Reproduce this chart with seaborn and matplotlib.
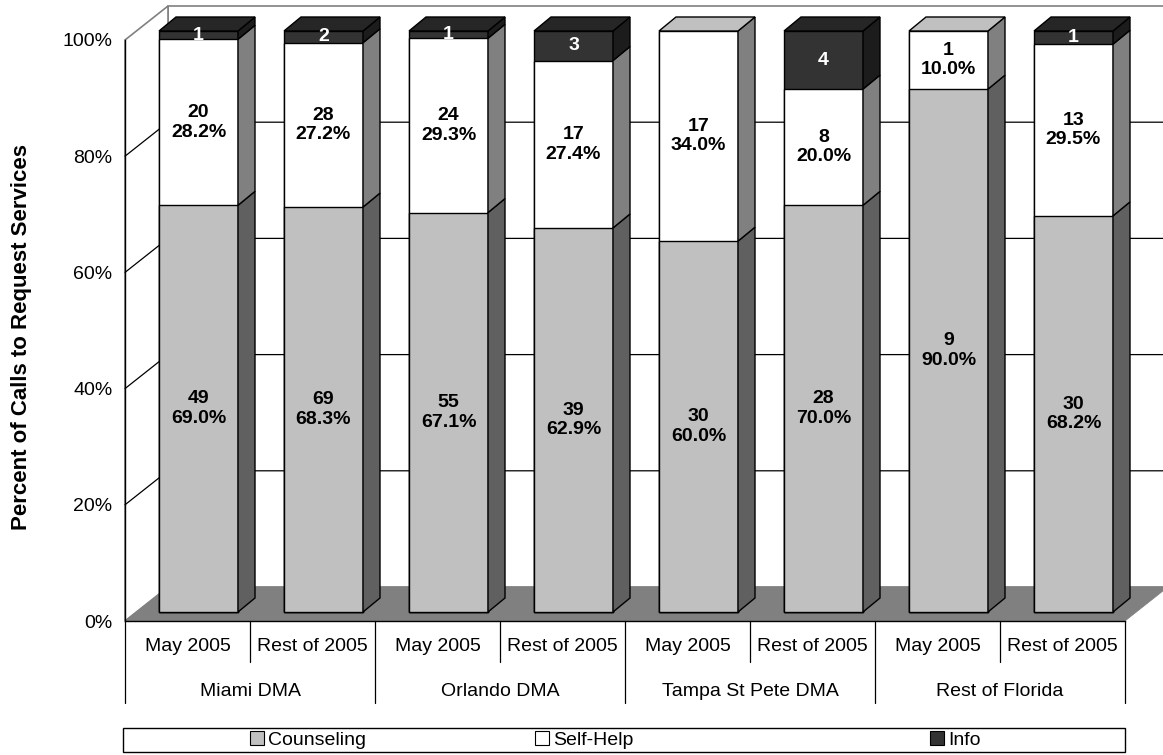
import numpy as np
import pandas as pd
import matplotlib
matplotlib.use("Agg")
import matplotlib.pyplot as plt
from matplotlib.patches import Polygon, Patch, Rectangle
import seaborn as sns

# data
regions = ["Miami DMA", "Orlando DMA", "Tampa St Pete DMA", "Rest of Florida"]
periods = ["May 2005", "Rest of 2005"]
series = ["Counseling", "Self-Help", "Info"]

counseling = [49, 69, 55, 39, 30, 28, 9, 30]
self_help = [20, 28, 24, 17, 17, 8, 1, 13]
info = [1, 2, 1, 3, 0, 4, 0, 1]
counseling_pct = ["69.0%", "68.3%", "67.1%", "62.9%", "60.0%", "70.0%", "90.0%", "68.2%"]
self_help_pct = ["28.2%", "27.2%", "29.3%", "27.4%", "34.0%", "20.0%", "10.0%", "29.5%"]

front = {"Counseling": "#c0c0c0", "Self-Help": "#ffffff", "Info": "#333333"}
side = {"Counseling": "#606060", "Self-Help": "#808080", "Info": "#1c1c1c"}
top = {"Counseling": "#a0a0a0", "Self-Help": "#c0c0c0", "Info": "#262626"}

sns.set_style("white")
plt.rcParams["font.family"] = ["Liberation Sans", "DejaVu Sans"]
plt.rcParams["text.color"] = "black"
plt.rcParams["axes.labelcolor"] = "black"
plt.rcParams["xtick.color"] = "black"
plt.rcParams["ytick.color"] = "black"

bars = [f"{r}|{p}" for r in regions for p in periods]
counts = pd.DataFrame({"Counseling": counseling, "Self-Help": self_help, "Info": info}, index=bars)
share = counts.div(counts.sum(axis=1), axis=0) * 100
cum = share.cumsum(axis=1)

W, H = 1163, 755
fig = plt.figure(figsize=(W / 100, H / 100), dpi=100)
ax = fig.add_axes([125 / W, (H - 621) / H, 1000 / W, 581 / H])
ax.patch.set_visible(False)

# pixel -> data helpers (x: 125 px per bar, y: 5.81 px per %)
px_x = lambda p: p / 125.0
px_y = lambda p: p * 100.0 / 581.0
ox, oy = px_x(11), px_y(9)      # bar front plane
ddx, ddy = px_x(17), px_y(14)   # bar depth
Dx, Dy = px_x(43), px_y(34)     # wall depth
w = 0.632

# stacked front faces (overlay of cumulative shares)
for s in series[::-1]:
    sns.barplot(x=bars, y=cum[s].values, color=front[s], width=w, saturation=1,
                edgecolor="black", linewidth=1, zorder=3, ax=ax)
for p in ax.patches:
    p.set_x(p.get_x() + ox)
    p.set_y(p.get_y() + oy)
    p.set_clip_on(False)

ax.set_xlim(-0.5, 7.5)
ax.set_ylim(0, 100)

# walls, floor, gridlines
ax.add_patch(Rectangle((-0.5 + Dx, Dy), 8, 100, fc="white", ec="#808080", lw=1.2,
                       zorder=0.5, clip_on=False))
ax.add_patch(Polygon([(-0.5, 0), (-0.5, 100), (-0.5 + Dx, 100 + Dy), (-0.5 + Dx, Dy)],
                     closed=True, fc="white", ec="#808080", lw=1.2, zorder=0.6, clip_on=False))
ax.add_patch(Polygon([(-0.5, 0), (7.5, 0), (7.5 + Dx, Dy), (-0.5 + Dx, Dy)],
                     closed=True, fc="#808080", ec="#808080", lw=0.5, zorder=1, clip_on=False))
for v in [20, 40, 60, 80]:
    ax.plot([-0.5, -0.5 + Dx, 7.5 + Dx], [v, v + Dy, v + Dy], color="black", lw=0.9,
            zorder=0.8, clip_on=False)

# side and top faces of the bars
for i in range(len(bars)):
    xl, xr = i - w / 2 + ox, i + w / 2 + ox
    lo = 0
    last = series[0]
    for s in series:
        hi = cum[s].iloc[i]
        if hi - lo > 1e-9:
            ax.add_patch(Polygon([(xr, lo + oy), (xr, hi + oy), (xr + ddx, hi + oy + ddy),
                                  (xr + ddx, lo + oy + ddy)], closed=True, fc=side[s],
                                 ec="black", lw=1, zorder=3, clip_on=False))
            last = s
        lo = hi
    ax.add_patch(Polygon([(xl, 100 + oy), (xr, 100 + oy), (xr + ddx, 100 + oy + ddy),
                          (xl + ddx, 100 + oy + ddy)], closed=True, fc=top[last],
                         ec="black", lw=1, zorder=3, clip_on=False))

# data labels
lab = dict(ha="center", va="center", fontsize=14, fontweight="bold", linespacing=1.2,
           zorder=6, clip_on=False)
for i in range(len(bars)):
    c1 = cum["Counseling"].iloc[i]
    c2 = cum["Self-Help"].iloc[i]
    ax.text(i + ox, c1 / 2 + oy, f"{counseling[i]}\n{counseling_pct[i]}", color="black", **lab)
    ax.text(i + ox, (c1 + c2) / 2 + oy, f"{self_help[i]}\n{self_help_pct[i]}", color="black", **lab)
    if info[i]:
        ax.text(i + ox, (c2 + 100) / 2 + oy, str(info[i]), color="white", **lab)

# axes styling
for sp in ["top", "right"]:
    ax.spines[sp].set_visible(False)
ax.spines["left"].set_color("black")
ax.spines["bottom"].set_color("black")
ax.spines["left"].set_linewidth(1)
ax.spines["bottom"].set_linewidth(1)
ax.set_yticks(range(0, 101, 20))
ax.set_yticklabels([f"{v}%" for v in range(0, 101, 20)])
ax.tick_params(axis="y", length=7, width=1, color="black", labelcolor="black", pad=2, labelsize=14)
ax.set_xticks(range(len(bars)))
ax.set_xticklabels(periods * len(regions))
ax.tick_params(axis="x", length=0, pad=12, labelsize=14, labelcolor="black")
ax.set_xlabel("")
ax.set_ylabel("")

# two-level category axis
trans = ax.get_xaxis_transform()
for k in range(len(bars) + 1):
    y1 = -0.141 if k % 2 == 0 else -0.0706
    ax.plot([k - 0.5, k - 0.5], [0, y1], transform=trans, color="black", lw=0.9, clip_on=False)
for g, r in enumerate(regions):
    ax.text(2 * g + 0.5, -0.129, r, transform=trans, ha="center", va="baseline",
            fontsize=14, color="black")

fig.text(22 / W, 1 - 337 / H, "Percent of Calls to Request Services", rotation=90,
         ha="center", va="center", fontsize=16, fontweight="bold", color="black")

# legend
fig.add_artist(Rectangle((123 / W, 3 / H), 1002 / W, 24 / H, transform=fig.transFigure,
                         fill=False, ec="black", lw=1))
for s, xpos in zip(series, [250, 535, 930]):
    leg = fig.legend(handles=[Patch(fc=front[s], ec="black", lw=0.8)], labels=[s],
                     loc="center left", bbox_to_anchor=(xpos / W, 15 / H), frameon=False,
                     fontsize=14, handlelength=0.7, handleheight=0.7, handletextpad=0.25,
                     borderpad=0, borderaxespad=0)
    for t in leg.get_texts():
        t.set_color("black")

fig.savefig("out.png", dpi=100)
